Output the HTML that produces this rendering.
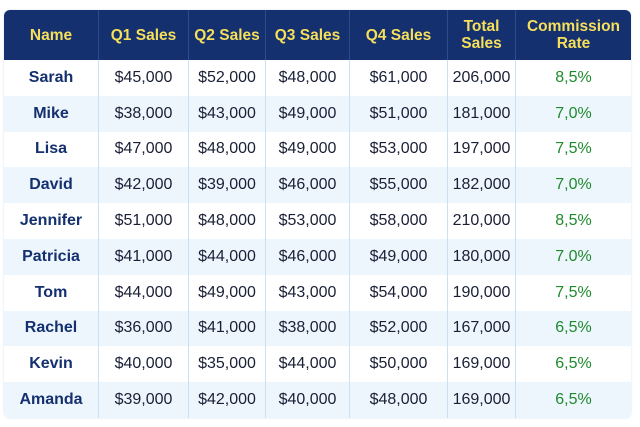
<!DOCTYPE html>
<html><head><style>
body{margin:0;background:#fff;width:640px;height:427px;overflow:hidden;font-family:"Liberation Sans",sans-serif}
table{position:absolute;left:4px;top:10px;border-collapse:separate;border-spacing:0;width:627px;border-radius:6px;overflow:hidden;box-shadow:0 0 2px #d8e2ee}
th{background:#14306f;color:#f6df5a;font-weight:bold;font-size:15.5px;height:50px;padding:0;line-height:17px;border-right:1px solid #2d4c8a}
th:last-child{border-right:none}
td{height:35.8px;padding:0;font-size:16px;color:#1a1f36;text-align:center;border-right:1px solid #c9e0f5}
td:last-child{border-right:none;color:#1e8a2c}
td:first-child{color:#14306f;font-weight:bold}
tr:nth-child(odd) td{background:#eef6fd}
</style></head><body>
<table>
<colgroup><col style="width:95px"><col style="width:90px"><col style="width:77px"><col style="width:84px"><col style="width:98px"><col style="width:68px"><col style="width:115px"></colgroup>
<tr><th>Name</th><th>Q1 Sales</th><th>Q2 Sales</th><th>Q3 Sales</th><th>Q4 Sales</th><th>Total<br>Sales</th><th>Commission<br>Rate</th></tr>
<tr><td>Sarah</td><td>$45,000</td><td>$52,000</td><td>$48,000</td><td>$61,000</td><td>206,000</td><td>8,5%</td></tr>
<tr><td>Mike</td><td>$38,000</td><td>$43,000</td><td>$49,000</td><td>$51,000</td><td>181,000</td><td>7,0%</td></tr>
<tr><td>Lisa</td><td>$47,000</td><td>$48,000</td><td>$49,000</td><td>$53,000</td><td>197,000</td><td>7,5%</td></tr>
<tr><td>David</td><td>$42,000</td><td>$39,000</td><td>$46,000</td><td>$55,000</td><td>182,000</td><td>7,0%</td></tr>
<tr><td>Jennifer</td><td>$51,000</td><td>$48,000</td><td>$53,000</td><td>$58,000</td><td>210,000</td><td>8,5%</td></tr>
<tr><td>Patricia</td><td>$41,000</td><td>$44,000</td><td>$46,000</td><td>$49,000</td><td>180,000</td><td>7.0%</td></tr>
<tr><td>Tom</td><td>$44,000</td><td>$49,000</td><td>$43,000</td><td>$54,000</td><td>190,000</td><td>7,5%</td></tr>
<tr><td>Rachel</td><td>$36,000</td><td>$41,000</td><td>$38,000</td><td>$52,000</td><td>167,000</td><td>6,5%</td></tr>
<tr><td>Kevin</td><td>$40,000</td><td>$35,000</td><td>$44,000</td><td>$50,000</td><td>169,000</td><td>6,5%</td></tr>
<tr><td>Amanda</td><td>$39,000</td><td>$42,000</td><td>$40,000</td><td>$48,000</td><td>169,000</td><td>6,5%</td></tr>
</table>
</body></html>
